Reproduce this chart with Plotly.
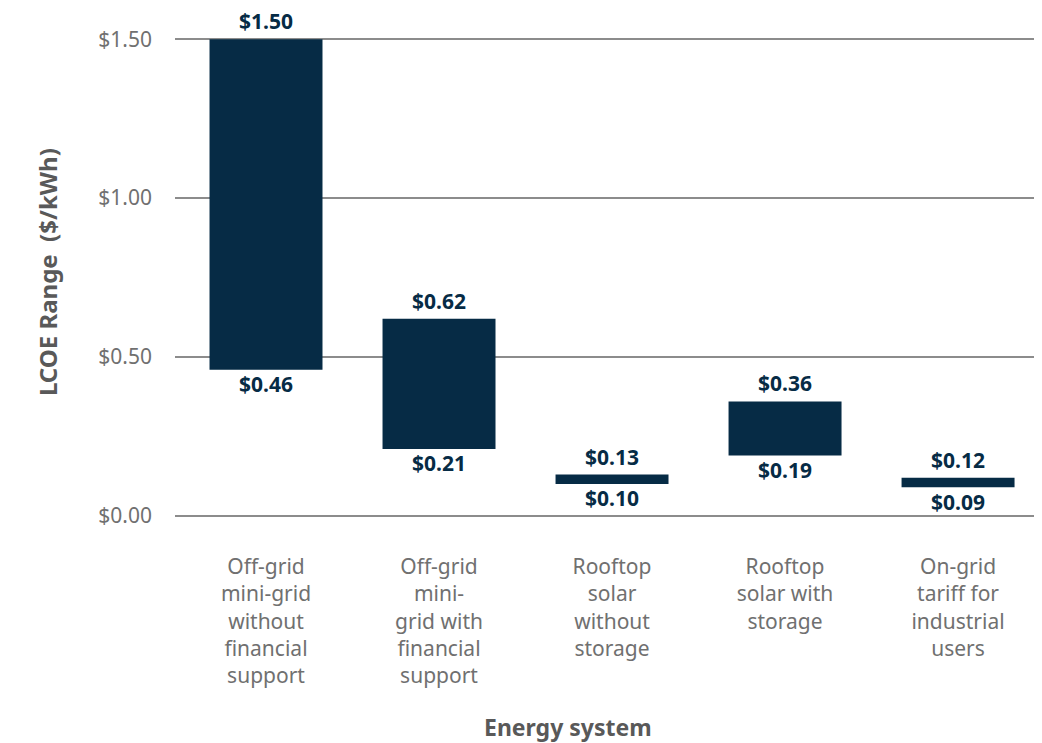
import plotly.graph_objects as go

categories = [
    "Off-grid<br>mini-grid<br>without<br>financial<br>support",
    "Off-grid<br>mini-<br>grid with<br>financial<br>support",
    "Rooftop<br>solar<br>without<br>storage",
    "Rooftop<br>solar with<br>storage",
    "On-grid<br>tariff for<br>industrial<br>users",
]
low_values = [0.46, 0.21, 0.10, 0.19, 0.09]
high_values = [1.50, 0.62, 0.13, 0.36, 0.12]
y_ticks = [0.0, 0.5, 1.0, 1.5]

FONT = "Noto Sans"
BAR = "#062b45"
TICK = "#707070"
TITLE = "#595959"

fig = go.Figure()
fig.add_trace(go.Bar(
    x=categories,
    base=low_values,
    y=[h - l for h, l in zip(high_values, low_values)],
    marker=dict(color=BAR, line=dict(width=0)),
    width=0.653,
    hoverinfo="skip",
    showlegend=False,
))
for vals, pos, msize in ((high_values, "top center", 6), (low_values, "bottom center", 9)):
    fig.add_trace(go.Scatter(
        x=categories, y=vals, mode="markers+text",
        marker=dict(size=msize, opacity=0),
        text=[f"${v:.2f}" for v in vals],
        textposition=pos,
        textfont=dict(family=FONT, size=21, color=BAR, weight="bold"),
        cliponaxis=False, showlegend=False, hoverinfo="skip",
    ))

fig.update_layout(
    width=1026, height=735,
    margin=dict(l=167, r=0, t=28, b=224),
    plot_bgcolor="white", paper_bgcolor="white",
    font=dict(family=FONT, color=TICK),
    annotations=[
        dict(text="LCOE Range  ($/kWh)", xref="paper", yref="y",
             x=0, y=0.767, xshift=-128, xanchor="center", yanchor="middle",
             textangle=-90, showarrow=False,
             font=dict(family=FONT, size=24, color=TITLE, weight="bold")),
        dict(text="Energy system", xref="x", yref="paper",
             x=1.746, y=0, yshift=-208, xanchor="center", yanchor="middle",
             showarrow=False,
             font=dict(family=FONT, size=23, color=TITLE, weight="bold")),
    ],
)
fig.update_yaxes(
    range=[-0.01, 1.51],
    tickvals=y_ticks,
    ticktext=[f"${v:.2f}" for v in y_ticks],
    tickfont=dict(family=FONT, size=21, color=TICK),
    showgrid=True, gridcolor="#8c8c8c", gridwidth=1.5,
    zeroline=False, showline=False,
    ticks="", ticklabelstandoff=22, automargin=False,
)
fig.update_xaxes(
    range=[-0.526, 4.439],
    tickfont=dict(family=FONT, size=21, color=TICK),
    showgrid=False, zeroline=False, showline=False, ticks="",
    ticklabelstandoff=33, automargin=False,
)

fig.write_html("out.html")
